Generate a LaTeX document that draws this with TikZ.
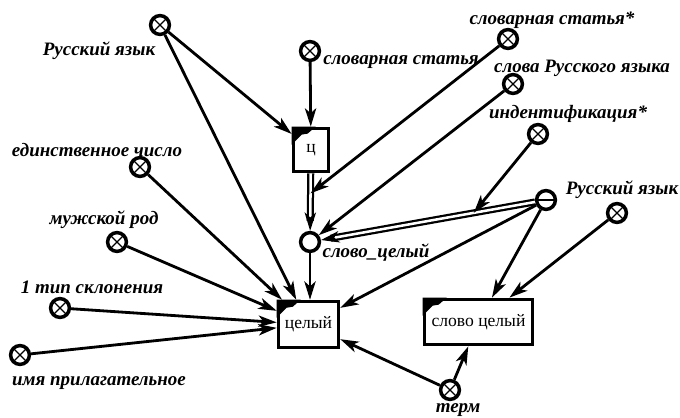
\documentclass[tikz,border=0pt]{standalone}
\usepackage{fontspec}
\setmainfont{Liberation Serif}
\usetikzlibrary{arrows.meta,calc}

\tikzset{
  lbl/.style={font=\fontsize{13.5}{15}\selectfont\bfseries\itshape, inner sep=0pt},
  ring/.style={circle, draw, line width=2.5pt, minimum size=0.47cm, inner sep=0pt, fill=white},
  xring/.style={ring, path picture={
      \draw[line width=0.8pt] (path picture bounding box.north west) -- (path picture bounding box.south east)
        (path picture bounding box.north east) -- (path picture bounding box.south west);}},
  hring/.style={ring, path picture={
      \draw[line width=1pt] (path picture bounding box.west) -- (path picture bounding box.east);}},
  linkbox/.style={draw, line width=2.5pt, inner sep=0pt, fill=white, font=\fontsize{12.5}{14}\selectfont},
  arcarrow/.style={line width=2pt, -{Stealth[length=13pt,width=8pt,inset=3.5pt]}},
  dblpair/.style={line width=1.6pt, double, double distance=1.8pt},
}

\begin{document}
\begin{tikzpicture}[x=0.025cm, y=-0.025cm]
  \useasboundingbox (0,0) rectangle (680,418);

  % boxes
  \node [linkbox, minimum width=0.88cm, minimum height=1.08cm] (tsi) at (311,150) {ц};
  \node [linkbox, minimum width=1.5cm, minimum height=1.15cm] (celyj) at (308.5,324.5) {целый};
  \node [linkbox, minimum width=2.7cm, minimum height=1.13cm] (slovocel) at (478.5,322) {слово целый};
  \foreach \b in {tsi,celyj,slovocel}
    \fill (\b.north west) -- +(24,0) -- +(16,7) -- +(10,8) -- +(0,18) -- cycle;

  % nodes
  \node [xring] (rusA) at (160,25) {};
  \node [xring] (slovst) at (310,51) {};
  \node [xring] (slovstz) at (508,39) {};
  \node [xring] (slovarus) at (513,84) {};
  \node [xring] (ident) at (538,134) {};
  \node [hring] (rusB) at (546,200) {};
  \node [xring] (rusC) at (617,213) {};
  \node [xring] (edch) at (140,167) {};
  \node [xring] (muzh) at (117,242) {};
  \node [xring] (tip) at (60,308) {};
  \node [xring] (imya) at (20,355) {};
  \node [ring] (slovo) at (310,242) {};
  \node [xring] (term) at (450,390) {};

  % labels
  \node [lbl] (lrusA) at (99,51) {Русский язык};
  \node [lbl, anchor=west] (lslovst) at (323,62) {словарная статья};
  \node [lbl] (lslovstz) at (552,20) {словарная статья*};
  \node [lbl] (lslovarus) at (582,68) {слова Русского языка};
  \node [lbl] (lident) at (568,114) {индентификация*};
  \node [lbl] (lrusB) at (622,190) {Русский язык};
  \node [lbl] (ledch) at (97,150) {единственное число};
  \node [lbl] (lmuzh) at (104,220) {мужской род};
  \node [lbl] (ltip) at (92,287) {1 тип склонения};
  \node [lbl] (limya) at (99,383) {имя прилагательное};
  \node [lbl] (lslovo) at (376,253) {слово\_целый};
  \node [lbl] (lterm) at (458,410) {терм};

  % pairs
  \draw [dblpair] (tsi) -- coordinate[pos=0.42] (tsislovo) ($(slovo)!15pt!(tsi)$);
  \draw [arcarrow] ($(slovo)!16pt!(tsi)$) -- (slovo);
  \draw [dblpair] (rusB) -- coordinate[pos=0.3] (russlovo) ($(slovo)!15pt!(rusB)$);
  \draw [arcarrow] ($(slovo)!16pt!(rusB)$) -- (slovo);

  % arcs
  \draw [arcarrow] (rusA) -- (tsi);
  \draw [arcarrow] (rusA) -- (celyj);
  \draw [arcarrow] (slovst) -- (tsi);
  \draw [arcarrow] (slovstz) -- (tsislovo);
  \draw [arcarrow] (slovarus) -- (slovo);
  \draw [arcarrow] (ident) -- (russlovo);
  \draw [arcarrow] (rusB) -- (celyj);
  \draw [arcarrow] (rusB) -- (slovocel);
  \draw [arcarrow] (rusC) -- (slovocel);
  \draw [arcarrow] (slovo) -- (slovo |- celyj.north);
  \foreach \n in {edch,muzh,tip,imya}
    \draw [arcarrow] (\n) -- (celyj);
  \draw [arcarrow] (term) -- (celyj);
  \draw [arcarrow] (term) -- (slovocel);
\end{tikzpicture}
\end{document}
